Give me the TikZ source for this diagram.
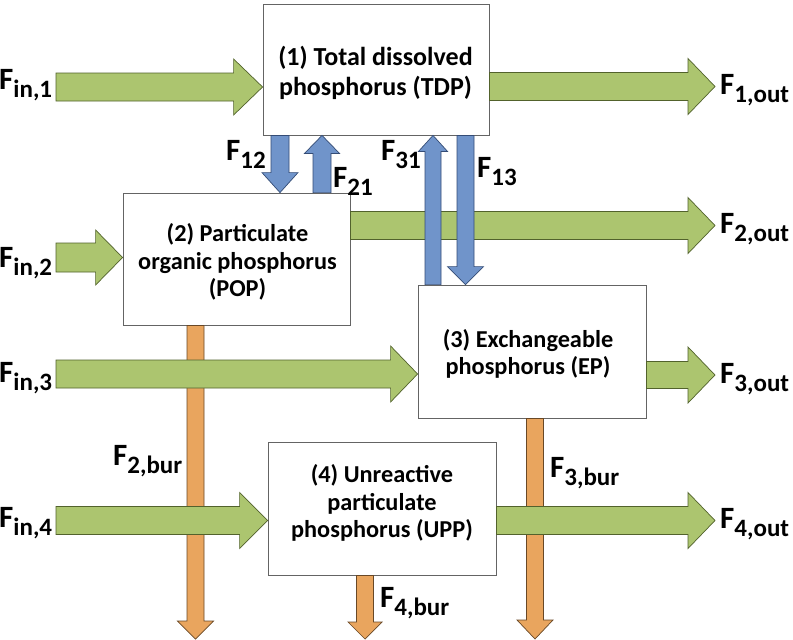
\documentclass[tikz,border=0pt]{standalone}
\usepackage{fontspec}
\setmainfont{Carlito}
\usetikzlibrary{calc}
\definecolor{grn}{RGB}{172,197,111}
\definecolor{grnd}{RGB}{82,98,44}
\definecolor{blu}{RGB}{112,148,202}
\definecolor{blud}{RGB}{52,76,118}
\definecolor{org}{RGB}{233,165,94}
\definecolor{orgd}{RGB}{105,72,38}
\definecolor{boxd}{RGB}{100,100,100}
% right-pointing block arrow: style, from, to, half shaft, half head, head length
\newcommand\rarrow[6]{\draw[#1] let \p1=(#2), \p2=(#3) in
  (\x1,{\y1+#4}) -- ({\x2-#6},{\y1+#4}) -- ({\x2-#6},{\y1+#5}) -- (\x2,\y1)
  -- ({\x2-#6},{\y1-#5}) -- ({\x2-#6},{\y1-#4}) -- (\x1,{\y1-#4}) -- cycle;}
\newcommand\darrow[6]{\draw[#1] let \p1=(#2), \p2=(#3) in
  ({\x1-#4},\y1) -- ({\x1-#4},{\y2+#6}) -- ({\x1-#5},{\y2+#6}) -- (\x1,\y2)
  -- ({\x1+#5},{\y2+#6}) -- ({\x1+#4},{\y2+#6}) -- ({\x1+#4},\y1) -- cycle;}
\newcommand\uarrow[6]{\draw[#1] let \p1=(#2), \p2=(#3) in
  ({\x1-#4},\y1) -- ({\x1-#4},{\y2-#6}) -- ({\x1-#5},{\y2-#6}) -- (\x1,\y2)
  -- ({\x1+#5},{\y2-#6}) -- ({\x1+#4},{\y2-#6}) -- ({\x1+#4},\y1) -- cycle;}
\newcommand\fl[1]{F\raisebox{-8.5pt}{\fontsize{25pt}{25pt}\selectfont #1}}
\begin{document}
\begin{tikzpicture}[x=1pt,y=-1pt,
  box/.style={draw=boxd, line width=0.8pt, fill=white, inner sep=0pt},
  bigtext/.style={align=center, inner sep=0pt, font=\bfseries\fontsize{26pt}{30pt}\selectfont},
  boxtext/.style={align=center, inner sep=0pt, font=\bfseries\fontsize{24.3pt}{27.5pt}\selectfont},
  lab/.style={inner sep=0pt, anchor=base west, font=\bfseries\fontsize{31pt}{31pt}\selectfont},
  garrow/.style={fill=grn, draw=grnd, line width=0.7pt, line join=miter},
  barrow/.style={fill=blu, draw=blud, line width=0.7pt, line join=miter},
  oarrow/.style={fill=org, draw=orgd, line width=0.7pt, line join=miter}]
\fill[white] (0,0) rectangle (793,640);
\useasboundingbox (0,0) rectangle (793,640);

% boxes
\node[box, minimum width=226pt, minimum height=131pt] (b1) at (376,69.5) {};
\node[box, minimum width=227pt, minimum height=132pt] (b2) at (236.5,259) {};
\node[box, minimum width=228pt, minimum height=133pt] (b3) at (532,351.5) {};
\node[box, minimum width=228pt, minimum height=133pt] (b4) at (382,508.5) {};

% reference coordinates
\coordinate (in1) at (56,87);
\coordinate (in2) at (56,257.5);
\coordinate (in3) at (56,374);
\coordinate (in4) at (56,520.5);
\coordinate (o1) at (715,86.5);
\coordinate (o2) at (715,225.5);
\coordinate (o3) at (715,375);
\coordinate (o4) at (715,520.5);
\coordinate (f12) at (280,160);
\coordinate (f21) at (322,160);
\coordinate (f31) at (433,200);
\coordinate (f13) at (465.5,200);
\coordinate (bur2) at (195.5,639);
\coordinate (bur4) at (365,639);
\coordinate (bur3) at (535,639);

% burial arrows (orange)
\darrow{oarrow}{b2.south -| bur2}{bur2}{8.5pt}{18pt}{18pt}
\darrow{oarrow}{b4.south -| bur4}{bur4}{8.5pt}{17pt}{17pt}
\darrow{oarrow}{b3.south -| bur3}{bur3}{8.5pt}{18pt}{19pt}

% green in/out arrows
\rarrow{garrow}{in1}{b1.west |- in1}{14pt}{28pt}{29pt}
\rarrow{garrow}{in2}{b2.west |- in2}{14.5pt}{27.5pt}{27pt}
\rarrow{garrow}{in3}{b3.west |- in3}{14pt}{28pt}{27pt}
\rarrow{garrow}{in4}{b4.west |- in4}{14pt}{28pt}{28pt}
\rarrow{garrow}{b1.east |- o1}{o1}{14pt}{28pt}{27pt}
\rarrow{garrow}{b2.east |- o2}{o2}{14pt}{28pt}{27pt}
\rarrow{garrow}{b3.east |- o3}{o3}{13.5pt}{28pt}{27pt}
\rarrow{garrow}{b4.east |- o4}{o4}{14pt}{28pt}{27pt}

% exchange arrows (blue)
\darrow{barrow}{b1.south -| f12}{b2.north -| f12}{9pt}{18pt}{20pt}
\uarrow{barrow}{b2.north -| f21}{b1.south -| f21}{9pt}{17.5pt}{18pt}
\uarrow{barrow}{b3.north -| f31}{b1.south -| f31}{8pt}{14.5pt}{16pt}
\darrow{barrow}{b1.south -| f13}{b3.north -| f13}{8.5pt}{18pt}{18pt}

% box texts
\node[bigtext] (t1) at (375.5,73) {(1) Total dissolved\\phosphorus (TDP)};
\node[boxtext] (t2) at (237.5,262) {(2) Particulate\\organic phosphorus\\(POP)};
\node[boxtext] (t3) at (528,354) {(3) Exchangeable\\phosphorus (EP)};
\node[boxtext] (t4) at (382,503) {(4) Unreactive\\particulate\\phosphorus (UPP)};

% flux labels
\node[lab] (lin1) at (-1,89) {\fl{in,1}};
\node[lab] (lin2) at (-1,267) {\fl{in,2}};
\node[lab] (lin3) at (-1,382) {\fl{in,3}};
\node[lab] (lin4) at (-1,527) {\fl{in,4}};
\node[lab] (lo1) at (720,94) {\fl{1,out}};
\node[lab] (lo2) at (720,233) {\fl{2,out}};
\node[lab] (lo3) at (720,383) {\fl{3,out}};
\node[lab] (lo4) at (720,528) {\fl{4,out}};
\node[lab] (l12) at (226,160) {\fl{12}};
\node[lab] (l21) at (333,187) {\fl{21}};
\node[lab] (l31) at (381,160) {\fl{31}};
\node[lab] (l13) at (477,177) {\fl{13}};
\node[lab] (lb2) at (113,465) {\fl{2,bur}};
\node[lab] (lb3) at (550,477) {\fl{3,bur}};
\node[lab] (lb4) at (380,607) {\fl{4,bur}};
\end{tikzpicture}
\end{document}
